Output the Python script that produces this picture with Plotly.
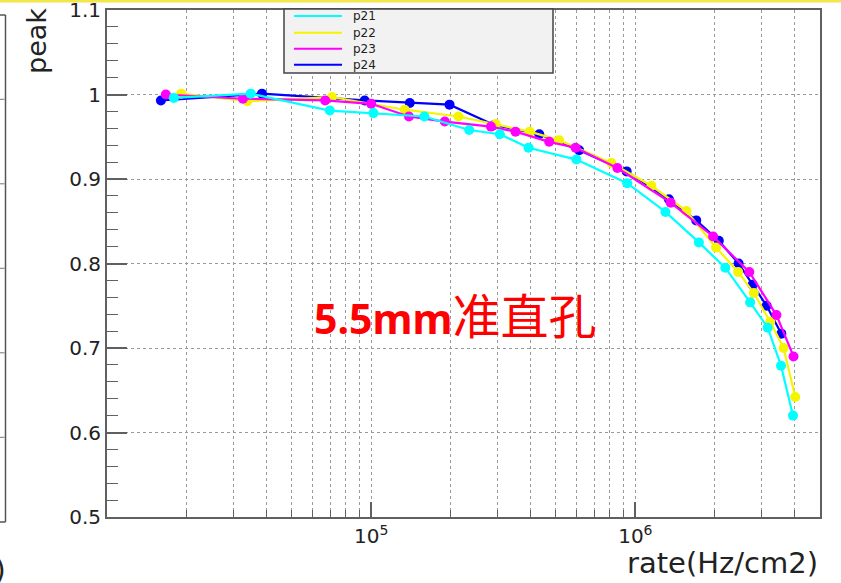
import plotly.graph_objects as go

# Peak response vs. rate for four pads (5.5 mm collimator)
p21_rate = [17900, 35000, 69700, 102000, 159000, 235000, 307000, 394000, 598000,
            932000, 1300000, 1740000, 2190000, 2720000, 3170000, 3560000, 3950000]
p21_peak = [0.996, 1.001, 0.981, 0.978, 0.974, 0.958, 0.953, 0.937, 0.923,
            0.895, 0.861, 0.825, 0.795, 0.754, 0.724, 0.679, 0.620]

p22_rate = [19100, 34000, 71000, 134000, 214000, 296000, 398000, 514000, 811000,
            1150000, 1560000, 2020000, 2450000, 2810000, 3240000, 3640000, 4030000]
p22_peak = [1.001, 0.992, 0.997, 0.982, 0.974, 0.965, 0.956, 0.946, 0.919,
            0.892, 0.862, 0.819, 0.790, 0.765, 0.731, 0.700, 0.642]

p23_rate = [16700, 32700, 67000, 100000, 139000, 190000, 284000, 352000, 472000,
            594000, 855000, 1360000, 1970000, 2700000, 3420000, 3970000]
p23_peak = [1.000, 0.995, 0.993, 0.989, 0.974, 0.968, 0.962, 0.956, 0.944,
            0.937, 0.913, 0.872, 0.832, 0.790, 0.739, 0.690]

p24_rate = [16000, 38600, 94500, 140000, 198000, 292000, 433000, 613000, 927000,
            1340000, 1700000, 2070000, 2460000, 2780000, 3140000, 3570000]
p24_peak = [0.993, 1.001, 0.993, 0.990, 0.988, 0.964, 0.953, 0.934, 0.909,
            0.876, 0.851, 0.827, 0.800, 0.775, 0.750, 0.717]

series_names = ["p21", "p22", "p23", "p24"]
series_colors = ["#00ffff", "#f5f500", "#ff00ff", "#0000ff"]

y_tick_vals = [0.5, 0.6, 0.7, 0.8, 0.9, 1.0, 1.1]
y_tick_text = ["0.5", "0.6", "0.7", "0.8", "0.9", "1", "1.1"]
x_major_vals = [1e5, 1e6]
x_major_text = ["10<sup>5</sup>", "10<sup>6</sup>"]
x_minor_vals = [2e4, 3e4, 4e4, 5e4, 6e4, 7e4, 8e4, 9e4,
                2e5, 3e5, 4e5, 5e5, 6e5, 7e5, 8e5, 9e5,
                2e6, 3e6, 4e6]

W, H = 841, 583
L, R, T, B = 107, 21, 10, 66
PW, PH = W - L - R, H - T - B


def px_x(px):
    return (px - L) / PW


def px_y(py):
    return (H - B - py) / PH


series = {
    "p21": (p21_rate, p21_peak),
    "p22": (p22_rate, p22_peak),
    "p23": (p23_rate, p23_peak),
    "p24": (p24_rate, p24_peak),
}
color_of = dict(zip(series_names, series_colors))

fig = go.Figure()
for name in ["p24", "p22", "p23", "p21"]:
    xs, ys = series[name]
    fig.add_trace(go.Scatter(
        x=xs, y=ys, mode="lines+markers", name=name, showlegend=False,
        line=dict(color=color_of[name], width=2.2),
        marker=dict(color=color_of[name], size=10),
    ))

grid_col = "#9a9a9a"
axis_col = "#606060"
tick_font = dict(family="DejaVu Sans", size=20, color="#222222")

fig.update_xaxes(
    type="log", range=[4, 6.699], automargin=False, ticklabeloverflow="allow",
    tickmode="array", tickvals=x_major_vals, ticktext=x_major_text,
    ticks="inside", ticklen=15, tickwidth=1.5, tickcolor=axis_col,
    tickfont=tick_font,
    showgrid=True, gridcolor=grid_col, griddash="dot", gridwidth=1,
    showline=True, linecolor=axis_col, linewidth=2, mirror=True,
    zeroline=False,
    minor=dict(tickmode="array", tickvals=x_minor_vals, ticks="inside",
               ticklen=7, tickwidth=1.2, tickcolor=axis_col,
               showgrid=True, gridcolor=grid_col, griddash="dot", gridwidth=1),
)
fig.update_yaxes(
    range=[0.5, 1.1], automargin=False, ticklabeloverflow="allow",
    tickmode="array", tickvals=y_tick_vals, ticktext=y_tick_text,
    ticks="inside", ticklen=20, tickwidth=1.5, tickcolor=axis_col,
    tickfont=tick_font,
    showgrid=True, gridcolor=grid_col, griddash="dot", gridwidth=1,
    showline=True, linecolor=axis_col, linewidth=2, mirror=True,
    zeroline=False,
    minor=dict(dtick=0.02, ticks="inside", ticklen=11, tickwidth=1.2,
               tickcolor=axis_col, showgrid=False),
)

shapes = []
# thin yellow strip along the top edge of the page
shapes.append(dict(type="rect", xref="paper", yref="paper",
                   x0=px_x(0), x1=px_x(W), y0=px_y(2.5), y1=px_y(0),
                   fillcolor="#f2e64a", line=dict(width=0), layer="above"))
# frame of the neighbouring panel at the left edge
shapes.append(dict(type="line", xref="paper", yref="paper",
                   x0=px_x(5.5), x1=px_x(5.5), y0=px_y(522), y1=px_y(15),
                   line=dict(color="#555555", width=1.5)))
for yy in (15, 522):
    shapes.append(dict(type="line", xref="paper", yref="paper",
                       x0=px_x(0), x1=px_x(5.5), y0=px_y(yy), y1=px_y(yy),
                       line=dict(color="#555555", width=1.5)))
for yy in (99.3, 183.8, 268.3, 352.8, 437.3):
    shapes.append(dict(type="line", xref="paper", yref="paper",
                       x0=px_x(0), x1=px_x(4.5), y0=px_y(yy), y1=px_y(yy),
                       line=dict(color="#777777", width=1)))

# legend box
shapes.append(dict(type="rect", xref="paper", yref="paper",
                   x0=px_x(284), x1=px_x(553), y0=px_y(73), y1=px_y(9),
                   fillcolor="#f2f2f2", line=dict(color="#444444", width=1.5),
                   layer="above"))
annotations = []
row_y = [16, 32.7, 48.7, 64.7]
for name, ry in zip(series_names, row_y):
    shapes.append(dict(type="line", xref="paper", yref="paper",
                       x0=px_x(294), x1=px_x(342), y0=px_y(ry), y1=px_y(ry),
                       line=dict(color=color_of[name], width=2), layer="above"))
    annotations.append(dict(xref="paper", yref="paper", x=px_x(351), y=px_y(ry),
                            xanchor="left", yanchor="middle", showarrow=False,
                            text=name,
                            font=dict(family="DejaVu Sans", size=12, color="#222222")))

# axis titles
annotations.append(dict(xref="paper", yref="paper", x=px_x(37), y=px_y(41),
                        xanchor="center", yanchor="middle", showarrow=False,
                        text="peak", textangle=-90,
                        font=dict(family="DejaVu Sans", size=27, color="#222222")))
annotations.append(dict(xref="paper", yref="paper", x=px_x(820), y=px_y(563),
                        xanchor="right", yanchor="middle", showarrow=False,
                        text="rate(Hz/cm2)",
                        font=dict(family="DejaVu Sans", size=29, color="#222222")))

# collimator label
annotations.append(dict(xref="paper", yref="paper", x=px_x(312), y=px_y(315),
                        xanchor="left", yanchor="middle", showarrow=False,
                        text="<b>5.5mm</b><span style='font-size:48px'>准直孔</span>",
                        font=dict(family="Noto Sans, Noto Sans CJK SC", size=41,
                                  color="#ff0000")))

# partial text at the page edges
annotations.append(dict(xref="paper", yref="paper", x=px_x(8), y=px_y(570),
                        xanchor="right", yanchor="middle", showarrow=False,
                        text="0)",
                        font=dict(family="DejaVu Sans", size=28, color="#222222")))
annotations.append(dict(xref="paper", yref="paper", x=px_x(97), y=px_y(576),
                        xanchor="center", yanchor="top", showarrow=False,
                        text="11",
                        font=dict(family="DejaVu Sans", size=28, color="#222222")))

fig.update_layout(
    width=W, height=H,
    margin=dict(l=L, r=R, t=T, b=B),
    paper_bgcolor="white", plot_bgcolor="white",
    shapes=shapes, annotations=annotations,
    showlegend=False,
)

fig.write_html("out.html")
